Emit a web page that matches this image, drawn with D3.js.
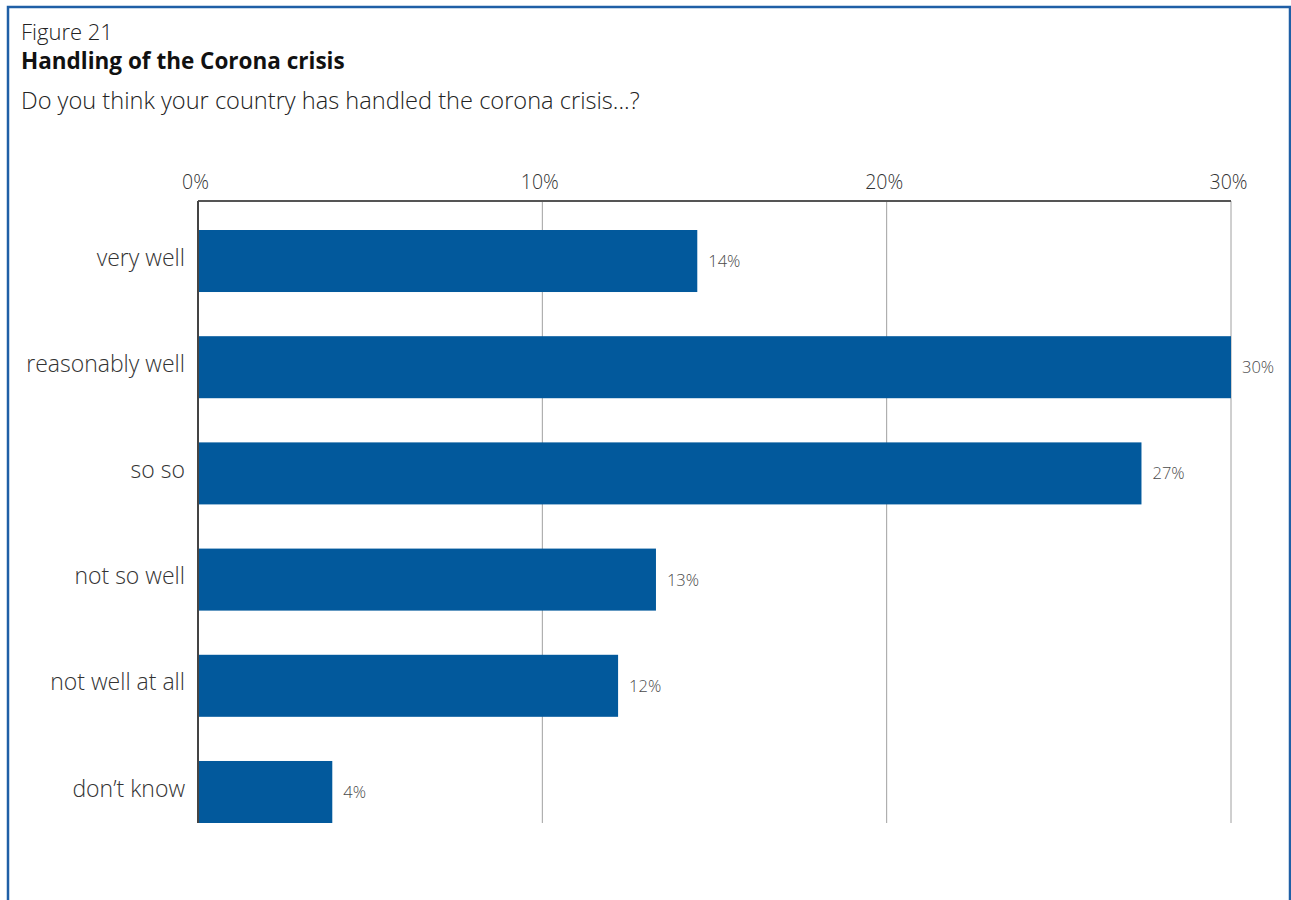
<!DOCTYPE html>
<html><head><meta charset="utf-8">
<script src="https://cdn.jsdelivr.net/npm/d3@7"></script>
<style>
html,body{margin:0;padding:0;background:#fff;}
svg{display:block;font-family:"Open Sans","Noto Sans",sans-serif;}
</style></head>
<body>
<svg id="chart" width="1291" height="900"></svg>
<script>
const categories = ["very well","reasonably well","so so","not so well","not well at all","don\u2019t know"];
const values = [14.5, 30.0, 27.4, 13.3, 12.2, 3.9];
const valueLabels = ["14%","30%","27%","13%","12%","4%"];
const ticks = [0,10,20,30];
const tickLabels = ["0%","10%","20%","30%"];

const svg = d3.select("#chart");
const plotLeft = 198, plotRight = 1231, plotTop = 201, plotBottom = 823;

// frame
svg.append("path").attr("d","M8,900 V7 H1290 V900")
  .attr("fill","none").attr("stroke","#1f5fa6").attr("stroke-width",2.5);

svg.append("text").attr("x",21).attr("y",40).attr("font-size",22).attr("font-weight",300).attr("fill","#222").text("Figure 21");
svg.append("text").attr("x",21).attr("y",69).attr("font-size",22.5).attr("font-weight",700).attr("fill","#111").text("Handling of the Corona crisis");
svg.append("text").attr("x",21).attr("y",109).attr("font-size",23.6).attr("font-weight",300).attr("fill","#222").text("Do you think your country has handled the corona crisis...?");

const x = d3.scaleLinear().domain([0,30]).range([plotLeft,plotRight]);
const y = d3.scaleBand().domain(categories).range([230,823]).paddingInner(0.416).paddingOuter(0);

// gridlines
svg.append("g").selectAll("line").data(ticks.filter(t=>t>0)).join("line")
  .attr("x1",d=>x(d)).attr("x2",d=>x(d)).attr("y1",plotTop).attr("y2",plotBottom)
  .attr("stroke","#a0a0a0").attr("stroke-width",1);

// top axis
const xAxis = d3.axisTop(x).tickValues(ticks).tickFormat((d,i)=>tickLabels[i]).tickSize(0).tickPadding(12);
const gx = svg.append("g").attr("transform",`translate(0,${plotTop})`).call(xAxis);
gx.select(".domain").remove();
gx.selectAll("text").attr("font-size",19.5).attr("font-weight",300).attr("fill","#333")
  .attr("font-family","'Open Sans','Noto Sans',sans-serif").attr("dx",-3);

// bars
svg.append("g").selectAll("rect").data(values).join("rect")
  .attr("x",x(0)).attr("y",(d,i)=>y(categories[i]))
  .attr("width",d=>x(d)-x(0)).attr("height",y.bandwidth())
  .attr("fill","#02599c");

// value labels
svg.append("g").selectAll("text").data(values).join("text")
  .attr("x",d=>x(d)+11).attr("y",(d,i)=>y(categories[i])+y.bandwidth()/2+6)
  .attr("font-size",16.5).attr("font-weight",300).attr("fill","#4a4a4a")
  .text((d,i)=>valueLabels[i]);

// category labels
const yAxis = d3.axisLeft(y).tickSize(0).tickPadding(13);
const gy = svg.append("g").attr("transform",`translate(${plotLeft},0)`).call(yAxis);
gy.select(".domain").remove();
gy.selectAll("text").attr("font-size",23).attr("font-weight",300).attr("fill","#333")
  .attr("font-family","'Open Sans','Noto Sans',sans-serif").attr("dy","0.2em");

// axis lines
svg.append("line").attr("x1",plotLeft).attr("x2",plotRight).attr("y1",plotTop).attr("y2",plotTop).attr("stroke","#555").attr("stroke-width",2);
svg.append("line").attr("x1",plotLeft).attr("x2",plotLeft).attr("y1",plotTop).attr("y2",plotBottom).attr("stroke","#444").attr("stroke-width",2);
</script>
</body></html>
